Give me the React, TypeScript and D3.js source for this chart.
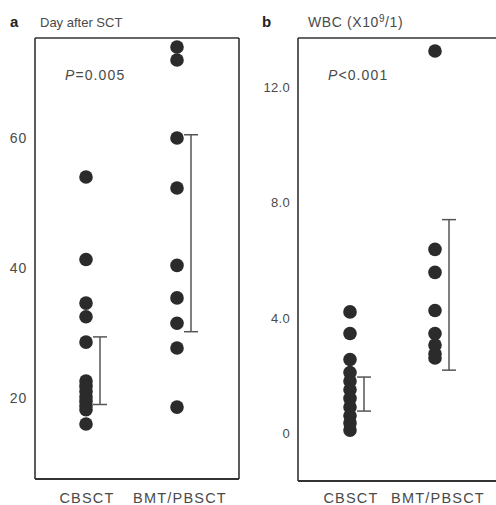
import React from 'react'
import * as d3 from 'd3'

// groups on the x axis
const groups = ['CBSCT', 'BMT/PBSCT']

// panel a: day after SCT
const dayCBSCT = [54, 41.3, 34.6, 32.5, 28.6, 22.6, 21.8, 21, 20.2, 19.5, 18.8, 18.2, 16]
const dayBMT = [74, 72, 60, 52.3, 40.4, 35.4, 31.5, 27.7, 18.6]
const dayRange = [[19, 29.4], [30.2, 60.5]]
const dayTicks = [20, 40, 60]

// panel b: WBC
const wbcCBSCT = [4.2, 3.45, 2.55, 2.1, 1.8, 1.5, 1.2, 0.9, 0.6, 0.35, 0.1]
const wbcBMT = [13.25, 6.37, 5.57, 4.25, 3.45, 3.05, 2.75, 2.6]
const wbcRange = [[0.76, 1.94], [2.18, 7.4]]
const wbcTicks = [0, 4, 8, 12]

const ink = '#333'
const txt = '#4a4a4a'
const font = '"Liberation Sans", Arial, sans-serif'

function Panel(props) {
    const {letter, title, titleSize, titleLs, pval, values, ranges, ticks, tickFmt, tickSize, tickLs,
        x0, x1, frame, yScale} = props
    const x = d3.scalePoint().domain(groups).range([x0, x1])
    const [fl, ft, fr, fb] = frame

    return (
        <g>
            <text x={letter === 'a' ? 10 : 262} y={27} fontSize={15} fontWeight="bold" fill="#222" fontFamily={font}>{letter}</text>
            <text x={fl + (letter === 'a' ? 5 : 10)} y={27} fontSize={titleSize} letterSpacing={titleLs}
                  fill={txt} fontFamily={font}>{title}</text>

            {/* frame: top, left, bottom, right */}
            <line x1={fl} x2={fr} y1={ft} y2={ft} stroke={ink} strokeWidth={1.6}/>
            <line x1={fl} x2={fl} y1={ft} y2={fb} stroke={ink} strokeWidth={1.6}/>
            <line x1={fl} x2={fr} y1={fb} y2={fb} stroke={ink} strokeWidth={2.2}/>
            <line x1={fr} x2={fr} y1={ft} y2={fb} stroke={ink} strokeWidth={1.6}/>

            {ticks.map(t => (
                <text key={t} x={fl - 8} y={yScale(t) + 5} textAnchor="end" fontSize={tickSize}
                      letterSpacing={tickLs} fill={txt} fontFamily={font}>{tickFmt(t)}</text>
            ))}

            <text x={fl + 30} y={80} fontSize={14} letterSpacing={1.1} fill={txt} fontFamily={font}>
                <tspan fontStyle="italic">P</tspan>{pval}
            </text>

            {values.map((vals, gi) => vals.map((v, i) => (
                <circle key={gi + '-' + i} cx={x(groups[gi])} cy={yScale(v)} r={6.8} fill="#2b2b2b"/>
            )))}

            {ranges.map((r, gi) => {
                const lx = x(groups[gi]) + 14
                return (
                    <g key={'r' + gi} stroke="#555" strokeWidth={1.5}>
                        <line x1={lx} x2={lx} y1={yScale(r[0])} y2={yScale(r[1])}/>
                        <line x1={lx - 7} x2={lx + 7} y1={yScale(r[0])} y2={yScale(r[0])}/>
                        <line x1={lx - 7} x2={lx + 7} y1={yScale(r[1])} y2={yScale(r[1])}/>
                    </g>
                )
            })}

            {groups.map(g => (
                <text key={g} x={x(g) + (g === 'CBSCT' ? 1 : 3)} y={503} textAnchor="middle" fontSize={14.5}
                      letterSpacing={1.2} fill={txt} fontFamily={font}>{g}</text>
            ))}
        </g>
    )
}

export default function App() {
    const yA = d3.scaleLinear().domain([20, 60]).range([398, 138])
    const yB = d3.scaleLinear().domain([0, 12]).range([433, 87])

    return (
        <svg width={496} height={505} style={{position: 'absolute', left: 0, top: 0, background: '#fff'}}>
            <rect width={496} height={505} fill="#fff"/>
            <Panel letter="a" title="Day after SCT" titleSize={13} titleLs={0} pval="=0.005"
                   values={[dayCBSCT, dayBMT]} ranges={dayRange} ticks={dayTicks}
                   tickFmt={t => String(t)} tickSize={14} tickLs={0.8} x0={86} x1={177}
                   frame={[35, 38, 239, 479]} yScale={yA}/>
            <Panel letter="b" titleSize={14} titleLs={0.6}
                   title={<>WBC (X10<tspan dy={-5} fontSize={10}>9</tspan><tspan dy={5}>/1)</tspan></>}
                   pval="<0.001"
                   values={[wbcCBSCT, wbcBMT]} ranges={wbcRange} ticks={wbcTicks}
                   tickFmt={t => t === 0 ? '0' : d3.format('.1f')(t)} tickSize={13} tickLs={0.3}
                   x0={350} x1={435}
                   frame={[298, 38, 520, 481]} yScale={yB}/>
        </svg>
    )
}
